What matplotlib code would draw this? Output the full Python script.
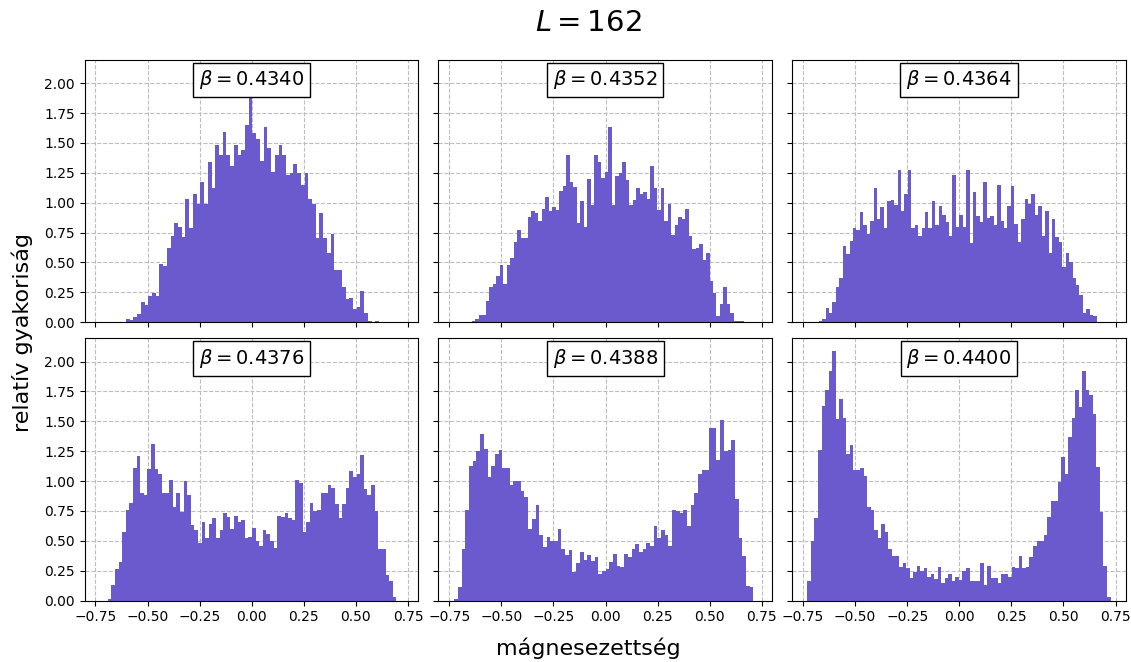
import numpy as np
import matplotlib
matplotlib.use("Agg")
import matplotlib.pyplot as plt

# beta values shown in the panels
betas = ["0.4340", "0.4352", "0.4364", "0.4376", "0.4388", "0.4400"]

# data range (min, max magnetization) of each histogram
ranges = [(-0.604, 0.611), (-0.642, 0.667), (-0.675, 0.659),
          (-0.691, 0.694), (-0.726, 0.710), (-0.729, 0.726)]

# relative frequency (density) in each bin
h_4340 = [0.03, 0.02, 0.04, 0.07, 0.17, 0.14, 0.22, 0.24, 0.22, 0.49, 0.47, 0.62, 0.72, 0.83, 0.80, 0.71,
          1.03, 0.79, 1.07, 0.99, 1.17, 0.99, 1.34, 1.12, 1.48, 1.40, 1.59, 1.40, 1.31, 1.48, 1.40, 1.44,
          1.65, 1.90,
          1.58, 1.53, 1.35, 1.63, 1.46, 1.26, 1.40, 1.48, 1.40, 1.23, 1.25, 1.32, 1.25, 1.15, 1.25, 1.03,
          0.99, 0.70, 0.91, 0.70, 0.58, 0.74, 0.44, 0.44, 0.29, 0.19, 0.20, 0.11, 0.13, 0.26, 0.08, 0.01,
          0.0, 0.01]
h_4352 = [0.01, 0.03, 0.06, 0.06, 0.18, 0.29, 0.32, 0.39, 0.48, 0.32, 0.48, 0.54, 0.67, 0.77, 0.70, 0.70,
          0.88, 0.93, 0.91, 0.85, 0.95, 1.05, 0.93, 0.96, 0.94, 1.10, 1.14, 1.40, 1.17, 1.13, 0.83, 1.01,
          0.80, 1.20, 0.98, 1.40, 1.34, 1.21, 1.26, 1.63, 0.98, 1.22, 1.25, 1.34, 1.19, 0.98, 1.02, 1.12,
          1.07, 1.09, 1.03, 1.31, 1.12, 0.94, 1.12, 0.85, 0.99, 0.73, 0.81, 0.88, 0.86, 0.95, 0.72, 0.61,
          0.62, 0.65, 0.52, 0.58, 0.34, 0.24, 0.05, 0.15, 0.29, 0.15, 0.08, 0.01, 0.01, 0.01]
h_4364 = [0.01, 0.03, 0.12, 0.08, 0.17, 0.29, 0.37, 0.64, 0.57, 0.68, 0.79, 0.77, 0.92, 0.81, 0.74, 0.85,
          1.12, 0.86, 0.96, 0.79, 1.01, 1.02, 0.98, 1.27, 0.93, 1.07, 1.27, 0.79, 0.81, 0.72, 0.79, 0.92,
          0.79, 1.01, 0.81, 0.97, 0.90, 0.84, 0.72, 1.23, 0.80, 0.90, 0.80, 1.27, 0.66, 1.09, 0.89, 0.84,
          1.17, 0.87, 0.89, 0.81, 1.15, 0.85, 0.79, 0.97, 1.14, 0.82, 0.67, 0.86, 1.03, 0.99, 1.07, 0.90,
          0.97, 0.72, 0.93, 0.58, 0.86, 0.71, 0.67, 0.46, 0.58, 0.50, 0.37, 0.31, 0.23, 0.08, 0.11, 0.06,
          0.05]
h_4376 = [0.01, 0.13, 0.26, 0.32, 0.57, 0.76, 0.82, 1.11, 1.21, 0.90, 0.88, 1.10, 1.31, 1.10, 1.06, 0.90,
          0.90, 1.01, 0.78, 0.90, 0.74, 1.00, 0.88, 0.63, 0.59, 0.48, 0.66, 0.52, 0.64, 0.69, 0.52, 0.59,
          0.73, 0.70, 0.60, 0.71, 0.66, 0.67, 0.52, 0.53, 0.61, 0.50, 0.46, 0.59, 0.56, 0.50, 0.44, 0.71,
          0.70, 0.73, 0.69, 0.67, 1.01, 0.98, 0.57, 0.66, 0.82, 0.75, 0.76, 0.90, 0.90, 0.97, 0.94, 0.81,
          0.69, 0.81, 0.94, 1.08, 1.03, 1.06, 1.22, 0.93, 0.88, 0.97, 0.75, 0.43, 0.43, 0.21, 0.16, 0.03]
h_4388 = [0.01, 0.11, 0.43, 0.76, 1.13, 1.17, 1.25, 1.39, 1.27, 1.03, 1.13, 1.23, 1.26, 1.11, 1.11, 0.97,
          1.00, 1.00, 0.92, 0.87, 0.60, 0.68, 0.80, 0.55, 0.45, 0.53, 0.50, 0.50, 0.60, 0.43, 0.38, 0.42,
          0.24, 0.31, 0.41, 0.34, 0.38, 0.33, 0.36, 0.22, 0.25, 0.26, 0.32, 0.39, 0.29, 0.28, 0.39, 0.36,
          0.43, 0.47, 0.41, 0.43, 0.48, 0.46, 0.62, 0.52, 0.59, 0.55, 0.46, 0.76, 0.75, 0.73, 0.76, 0.62,
          0.80, 0.90, 1.06, 1.09, 1.09, 1.44, 1.44, 1.18, 1.51, 1.25, 1.26, 1.34, 0.85, 0.52, 0.37, 0.12,
          0.11]
h_4400 = [0.16, 0.50, 0.69, 1.26, 1.63, 1.76, 1.92, 2.09, 1.52, 1.69, 1.53, 1.23, 1.30, 1.09, 1.09, 1.11,
          1.04, 0.78, 0.76, 0.59, 0.52, 0.64, 0.57, 0.43, 0.37, 0.37, 0.28, 0.31, 0.27, 0.19, 0.24, 0.29,
          0.25, 0.27, 0.20, 0.22, 0.18, 0.28, 0.15, 0.19, 0.22, 0.16, 0.20, 0.17, 0.25, 0.27, 0.16, 0.16,
          0.16, 0.31, 0.13, 0.29, 0.19, 0.19, 0.15, 0.22, 0.22, 0.20, 0.28, 0.27, 0.37, 0.27, 0.28, 0.36,
          0.46, 0.50, 0.50, 0.55, 0.70, 0.83, 0.83, 0.99, 1.20, 1.06, 1.37, 1.53, 1.76, 1.62, 1.92, 1.76,
          1.72, 1.56, 1.12, 0.74, 0.29, 0.03]

heights = [h_4340, h_4352, h_4364, h_4376, h_4388, h_4400]

fig, axes = plt.subplots(2, 3, figsize=(11.31, 6.62), dpi=100, sharex=True, sharey=True)
fig.subplots_adjust(left=0.0749, right=0.9953, bottom=0.0929, top=0.9094,
                    wspace=0.061, hspace=0.062)

for ax, beta, (lo, hi), h in zip(axes.flat, betas, ranges, heights):
    edges = np.linspace(lo, hi, len(h) + 1)
    centers = 0.5 * (edges[:-1] + edges[1:])
    ax.hist(centers, bins=edges, weights=h, color='slateblue')
    ax.set_axisbelow(True)
    ax.grid(True, linestyle='--', color='#bdbdbd')
    ax.text(0.5, 0.924, r'$\beta = ' + beta + '$', transform=ax.transAxes,
            ha='center', va='center', fontsize=14,
            bbox=dict(boxstyle='square,pad=0.3', facecolor='white', edgecolor='black'))

axes[0, 0].set_xticks(np.arange(-0.75, 0.76, 0.25))
axes[0, 0].set_yticks(np.arange(0, 2.01, 0.25))

fig.text(0.52, 0.966, r'$L = 162$', ha='center', va='center', fontsize=21)
fig.text(0.52, 0.021, 'mágnesezettség', ha='center', va='center', fontsize=16)
fig.text(0.0195, 0.497, 'relatív gyakoriság', ha='center', va='center', rotation=90, fontsize=16)

plt.savefig('out.png', dpi=100)
